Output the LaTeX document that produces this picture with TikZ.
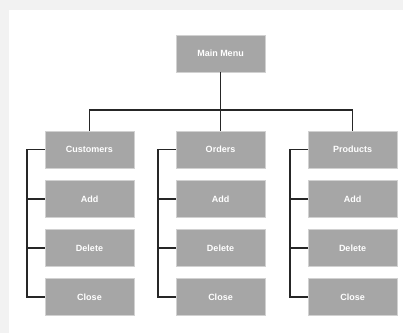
\documentclass[tikz,border=0pt]{standalone}
\usepackage{fontspec}
\setmainfont{Liberation Sans}
\begin{document}
\begin{tikzpicture}[x=1pt,y=-1pt,
  menubox/.style={draw=black!18,line width=0.6pt,fill=black!35,text=white,font=\bfseries\fontsize{9}{10}\selectfont,minimum width=89pt,minimum height=37pt,inner sep=0pt},
  conn/.style={draw=black!85,line width=1.8pt}]
\useasboundingbox (0,0) rectangle (403,333);
\fill[black!5] (0,0) rectangle (403,333);
\fill[white] (9,10) rectangle (403,333);
\node[menubox] (mm) at (220.5,53.5) {Main Menu};
\foreach \n/\x/\t in {c/89.5/Customers,o/220.5/Orders,p/352.5/Products}{
  \node[menubox] (\n1) at (\x,149.5) {\t};
  \node[menubox] (\n2) at (\x,199) {Add};
  \node[menubox] (\n3) at (\x,248) {Delete};
  \node[menubox] (\n4) at (\x,297) {Close};
}
\coordinate (hb) at (220.5,110);
\draw[conn] (mm.south) -- (hb);
\draw[conn] (c1.north) |- (hb) -| (p1.north);
\draw[conn] (hb) -- (o1.north);
\foreach \n in {c,o,p}{
  \draw[conn] (\n1.west) -- ++(-18,0) |- (\n4.west);
  \draw[conn] (\n2.west) -- ++(-18,0);
  \draw[conn] (\n3.west) -- ++(-18,0);
}
\end{tikzpicture}
\end{document}
